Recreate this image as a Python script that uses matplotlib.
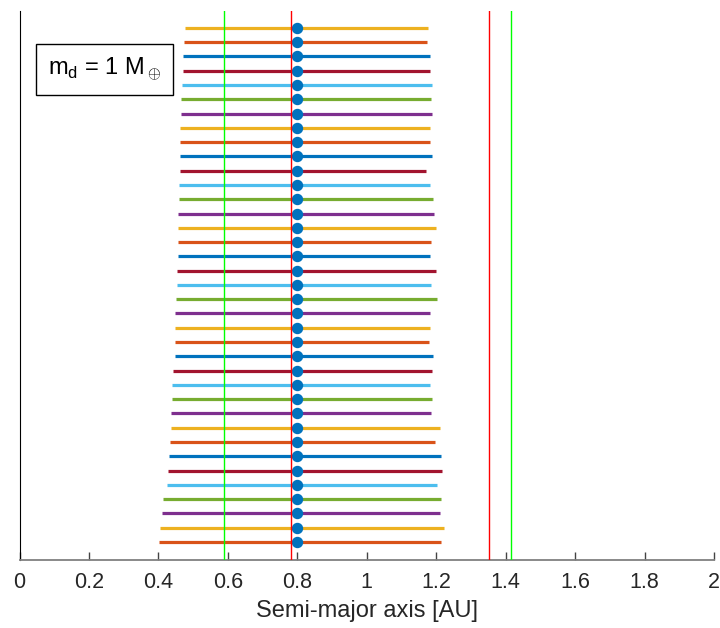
import matplotlib.pyplot as plt

plt.rcParams['font.family'] = ['Liberation Sans', 'DejaVu Sans']
plt.rcParams['mathtext.fontset'] = 'custom'
plt.rcParams['mathtext.rm'] = 'Liberation Sans'

# row values, bottom to top
a_centre = [0.8] * 37
a_left = [0.403, 0.405, 0.409, 0.414, 0.425, 0.428, 0.431, 0.432, 0.436, 0.437,
          0.439, 0.440, 0.443, 0.447, 0.447, 0.448, 0.449, 0.451, 0.453, 0.454,
          0.456, 0.456, 0.457, 0.457, 0.458, 0.459, 0.461, 0.462, 0.462, 0.463,
          0.465, 0.465, 0.468, 0.470, 0.472, 0.475, 0.477]
a_right = [1.215, 1.222, 1.210, 1.214, 1.203, 1.216, 1.214, 1.196, 1.212, 1.184,
           1.188, 1.183, 1.188, 1.191, 1.178, 1.181, 1.182, 1.201, 1.186, 1.199,
           1.183, 1.184, 1.198, 1.194, 1.192, 1.181, 1.171, 1.188, 1.181, 1.181,
           1.187, 1.185, 1.189, 1.181, 1.181, 1.174, 1.177]
vlines_green = [0.590, 1.414]
vlines_red = [0.781, 1.352]
xticks = [0, 0.2, 0.4, 0.6, 0.8, 1, 1.2, 1.4, 1.6, 1.8, 2]
xticklabels = ['0', '0.2', '0.4', '0.6', '0.8', '1', '1.2', '1.4', '1.6', '1.8', '2']

colours = ['#0072BD', '#D95319', '#EDB120', '#7E2F8E', '#77AC30', '#4DBEEE', '#A2142F']

fig = plt.figure(figsize=(7.2, 6.28), dpi=100)
ax = fig.add_axes([0.0271, 0.1083, 0.9646, 0.8742])

for i in range(len(a_centre)):
    y = i + 1
    ax.plot([a_left[i], a_right[i]], [y, y], color=colours[(i + 1) % 7], lw=2.3,
            solid_capstyle='butt', zorder=2)
for i in range(len(a_centre)):
    ax.plot(a_centre[i], i + 1, 'o', color='#0072BD', ms=7.2, zorder=3)

for x in vlines_green:
    ax.axvline(x, color='#00FF00', lw=1.0, zorder=4)
for x in vlines_red:
    ax.axvline(x, color='#FF0000', lw=1.0, zorder=4)

ax.set_xlim(0, 2)
ax.set_ylim(-0.26, 38.18)
ax.set_xticks(xticks)
ax.set_xticklabels(xticklabels)
ax.set_yticks([])
ax.tick_params(axis='x', direction='in', length=6, width=1, color='#444444',
               labelsize=15.5, labelcolor='#262626', pad=9)
ax.spines['top'].set_visible(False)
ax.spines['right'].set_visible(False)
ax.spines['left'].set_color('black')
ax.spines['bottom'].set_color('#808080')
ax.spines['bottom'].set_linewidth(1.3)
ax.set_xlabel('Semi-major axis [AU]', fontsize=17, color='#262626', labelpad=5)

ax.text(0.123, 0.894, r'm$_\mathregular{d}$ = 1 M$_\oplus$', transform=ax.transAxes,
        fontsize=17, ha='center', va='center',
        bbox=dict(boxstyle='square,pad=0.5', facecolor='white', edgecolor='black', lw=1))

fig.savefig('out.png', dpi=100)
